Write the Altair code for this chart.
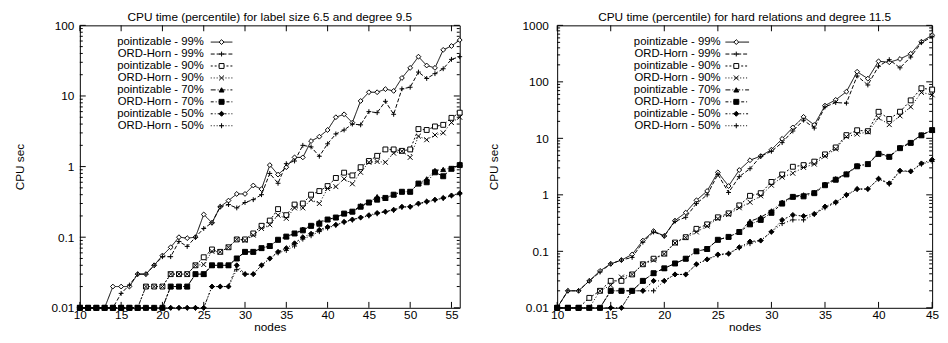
import altair as alt
import pandas as pd

FONT = "Liberation Sans"

SERIES = ["pointizable - 99%", "ORD-Horn - 99%", "pointizable - 90%", "ORD-Horn - 90%",
          "pointizable - 70%", "ORD-Horn - 70%", "pointizable - 50%", "ORD-Horn - 50%"]

# ---------------- left panel: label size 6.5, degree 9.5 ----------------
LEFT_NODES = list(range(10, 57))
LEFT_P99 = [0.01, 0.01, 0.01, 0.01, 0.02, 0.02, 0.02, 0.03, 0.03, 0.04,
            0.055, 0.072, 0.1, 0.097, 0.1, 0.21, 0.16, 0.27, 0.33, 0.41,
            0.41, 0.54, 0.48, 1.05, 0.77, 0.98, 1.35, 1.35, 2.3, 2.65,
            3.3, 5.0, 5.5, 4.2, 8.5, 11.3, 11.3, 12.5, 11.8, 18,
            25, 36, 27, 25, 45, 51, 62]
LEFT_O99 = [0.01, 0.01, 0.01, 0.01, 0.01, 0.016, 0.021, 0.03, 0.03, 0.04,
            0.053, 0.053, 0.087, 0.074, 0.1, 0.133, 0.16, 0.27, 0.29, 0.26,
            0.31, 0.34, 0.4, 0.8, 0.58, 1.1, 1.2, 2.0, 1.9, 1.4,
            2.1, 2.9, 3.3, 4.0, 3.9, 6.0, 5.8, 8.4, 5.5, 12.6,
            13.3, 21.8, 17.7, 20.7, 24.3, 33, 36]
LEFT_P90 = [0.01, 0.01, 0.01, 0.01, 0.01, 0.01, 0.01, 0.01, 0.02, 0.02,
            0.02, 0.03, 0.03, 0.03, 0.04, 0.052, 0.067, 0.062, 0.072, 0.093,
            0.093, 0.113, 0.145, 0.172, 0.25, 0.205, 0.29, 0.30, 0.40, 0.45,
            0.53, 0.69, 0.82, 0.75, 0.98, 1.2, 1.42, 1.75, 1.75, 1.67,
            1.75, 3.4, 3.3, 3.7, 3.9, 4.9, 5.8]
LEFT_O90 = [0.01, 0.01, 0.01, 0.01, 0.01, 0.01, 0.01, 0.01, 0.02, 0.02,
            0.02, 0.03, 0.03, 0.03, 0.04, 0.041, 0.063, 0.062, 0.072, 0.093,
            0.09, 0.107, 0.133, 0.15, 0.205, 0.185, 0.26, 0.26, 0.34, 0.30,
            0.49, 0.52, 0.67, 0.57, 0.83, 1.15, 1.18, 1.15, 1.55, 1.65,
            1.35, 2.7, 2.4, 2.8, 3.0, 4.2, 5.0]
LEFT_P70 = [0.01, 0.01, 0.01, 0.01, 0.01, 0.01, 0.01, 0.01, 0.01, 0.01,
            0.01, 0.02, 0.02, 0.02, 0.03, 0.03, 0.04, 0.04, 0.04, 0.05,
            0.062, 0.062, 0.07, 0.075, 0.092, 0.102, 0.113, 0.13, 0.145, 0.165,
            0.178, 0.19, 0.216, 0.23, 0.28, 0.31, 0.375, 0.355, 0.40, 0.44,
            0.44, 0.575, 0.67, 0.88, 0.91, 0.95, 1.09]
LEFT_O70 = [0.01, 0.01, 0.01, 0.01, 0.01, 0.01, 0.01, 0.01, 0.01, 0.01,
            0.01, 0.02, 0.02, 0.02, 0.03, 0.03, 0.04, 0.04, 0.04, 0.05,
            0.062, 0.062, 0.07, 0.075, 0.092, 0.102, 0.113, 0.125, 0.145, 0.155,
            0.178, 0.19, 0.216, 0.23, 0.27, 0.31, 0.34, 0.36, 0.40, 0.44,
            0.44, 0.575, 0.60, 0.83, 0.73, 0.93, 1.05]
LEFT_P50 = [0.01, 0.01, 0.01, 0.01, 0.01, 0.01, 0.01, 0.01, 0.01, 0.01,
            0.01, 0.01, 0.01, 0.01, 0.01, 0.01, 0.02, 0.02, 0.02, 0.04,
            0.03, 0.03, 0.04, 0.05, 0.062, 0.07, 0.082, 0.1, 0.112, 0.127,
            0.14, 0.15, 0.165, 0.178, 0.19, 0.205, 0.22, 0.23, 0.245, 0.27,
            0.27, 0.30, 0.32, 0.34, 0.36, 0.39, 0.42]
LEFT_O50 = [0.01, 0.01, 0.01, 0.01, 0.01, 0.01, 0.01, 0.01, 0.01, 0.01,
            0.01, 0.01, 0.01, 0.01, 0.01, 0.01, 0.02, 0.02, 0.02, 0.035,
            0.03, 0.03, 0.04, 0.05, 0.06, 0.065, 0.075, 0.094, 0.105, 0.12,
            0.135, 0.148, 0.163, 0.175, 0.19, 0.2, 0.215, 0.23, 0.24, 0.265,
            0.27, 0.295, 0.315, 0.335, 0.355, 0.385, 0.41]

# ---------------- right panel: hard relations, degree 11.5 ----------------
RIGHT_NODES = list(range(10, 46))
RIGHT_P99 = [0.01, 0.02, 0.02, 0.03, 0.045, 0.06, 0.07, 0.088, 0.155, 0.228,
             0.187, 0.35, 0.485, 0.8, 1.17, 2.5, 1.43, 2.75, 4.1, 4.85,
             6.3, 9.8, 15.6, 24, 17.3, 38, 48, 67, 151, 114,
             231, 222, 254, 314, 514, 670]
RIGHT_O99 = [0.01, 0.02, 0.02, 0.03, 0.043, 0.06, 0.07, 0.078, 0.145, 0.22,
             0.187, 0.34, 0.40, 0.7, 1.0, 2.3, 1.1, 2.1, 2.9, 4.8,
             5.9, 8.4, 13.5, 21, 15.2, 36, 43, 42, 127, 88,
             189, 247, 177, 275, 494, 627]
RIGHT_P90 = [0.01, 0.01, 0.01, 0.015, 0.02, 0.03, 0.03, 0.039, 0.059, 0.074,
             0.091, 0.143, 0.178, 0.25, 0.30, 0.40, 0.47, 0.65, 0.96, 1.07,
             1.69, 2.29, 3.14, 3.36, 3.87, 5.2, 6.9, 11.4, 13.9, 13.4,
             29.5, 22, 29.6, 47, 77, 73]
RIGHT_O90 = [0.01, 0.01, 0.01, 0.01, 0.02, 0.025, 0.035, 0.039, 0.059, 0.07,
             0.09, 0.14, 0.175, 0.22, 0.28, 0.38, 0.45, 0.59, 0.74, 0.96,
             1.48, 2.06, 2.41, 3.06, 3.5, 4.85, 6.5, 10.7, 11.9, 13,
             23, 17.5, 25, 36, 65, 59]
RIGHT_P70 = [0.01, 0.01, 0.01, 0.01, 0.01, 0.02, 0.02, 0.02, 0.03, 0.041,
             0.05, 0.061, 0.074, 0.10, 0.11, 0.16, 0.18, 0.22, 0.34, 0.40,
             0.52, 0.74, 0.94, 1.0, 1.1, 1.54, 1.93, 2.35, 3.27, 3.5,
             5.5, 4.8, 6.9, 8.5, 11.5, 14]
RIGHT_O70 = [0.01, 0.01, 0.01, 0.01, 0.01, 0.02, 0.02, 0.02, 0.03, 0.041,
             0.05, 0.061, 0.074, 0.10, 0.11, 0.16, 0.18, 0.22, 0.30, 0.36,
             0.48, 0.70, 0.92, 0.94, 1.07, 1.48, 1.85, 2.3, 3.2, 3.5,
             5.3, 4.7, 6.7, 8.3, 11.3, 14]
RIGHT_P50 = [0.01, 0.01, 0.01, 0.01, 0.01, 0.01, 0.01, 0.02, 0.02, 0.03,
             0.03, 0.039, 0.039, 0.059, 0.072, 0.088, 0.091, 0.118, 0.149, 0.155,
             0.222, 0.36, 0.44, 0.42, 0.46, 0.62, 0.74, 1.0, 1.27, 1.27,
             1.93, 1.6, 2.68, 2.6, 3.6, 4.2]
RIGHT_O50 = [0.01, 0.01, 0.01, 0.01, 0.01, 0.01, 0.01, 0.02, 0.02, 0.02,
             0.03, 0.039, 0.039, 0.059, 0.072, 0.085, 0.091, 0.115, 0.137, 0.155,
             0.22, 0.31, 0.36, 0.36, 0.45, 0.59, 0.72, 0.98, 1.25, 1.27,
             1.9, 1.55, 2.6, 2.6, 3.5, 3.9]

LEFT_TITLE = "CPU time (percentile) for label size 6.5 and degree 9.5"
RIGHT_TITLE = "CPU time (percentile) for hard relations and degree 11.5"
LEFT_X_TICKS = [10, 15, 20, 25, 30, 35, 40, 45, 50, 55]
RIGHT_X_TICKS = [10, 15, 20, 25, 30, 35, 40, 45]
LEFT_Y_TICKS = [0.01, 0.1, 1, 10, 100]
RIGHT_Y_TICKS = [0.01, 0.1, 1, 10, 100, 1000]

# styles
DASHES = [[1, 0], [4, 2], [2, 2], [1, 2], [5, 2, 1, 2], [3, 2, 1, 2], [2, 2, 1, 2], [1, 2]]
PLUS = "M-1,0L1,0M0,-1L0,1"
CROSS = "M-1,-1L1,1M-1,1L1,-1"
SHAPES = ["diamond", PLUS, "square", CROSS, "triangle-up", "square", "diamond", PLUS]
FILLS = ["white", "transparent", "white", "transparent", "black", "black", "black", "transparent"]
SIZES = [24, 26, 20, 20, 20, 13, 18, 26]


def minor_ticks(majors):
    return [m * k for m in majors[:-1] for k in range(2, 10)]


def panel(nodes, arrays, title, x_dom, x_ticks, y_dom, y_ticks, W, H, leg, lab_pad, ttl_pad):
    rows = []
    for name, vals in zip(SERIES, arrays):
        for n, v in zip(nodes, vals):
            rows.append({"nodes": n, "cpu": v, "series": name})
    df = pd.DataFrame(rows)

    x_scale = alt.Scale(domain=x_dom, nice=False, zero=False)
    x_axis = alt.Axis(values=x_ticks, title="nodes", labelPadding=2, titlePadding=1,
                      labelFlush=False, tickSize=0)
    y_scale = alt.Scale(type="log", domain=y_dom, nice=False)

    X = alt.X("nodes:Q", scale=x_scale, axis=x_axis)
    Y = alt.Y("cpu:Q", scale=y_scale,
              axis=alt.Axis(values=y_ticks, format="~g", title="CPU sec",
                            labelPadding=lab_pad, titlePadding=ttl_pad, tickSize=0))
    Yn = alt.Y("cpu:Q", scale=y_scale, axis=None)
    dash = alt.StrokeDash("series:N", scale=alt.Scale(domain=SERIES, range=DASHES), legend=None)
    shape = alt.Shape("series:N", scale=alt.Scale(domain=SERIES, range=SHAPES), legend=None)
    fill = alt.Fill("series:N", scale=alt.Scale(domain=SERIES, range=FILLS), legend=None)
    size = alt.Size("series:N", scale=alt.Scale(domain=SERIES, range=SIZES), legend=None)

    lines = alt.Chart(df).mark_line(color="black", strokeWidth=1).encode(
        x=X, y=Y, strokeDash=dash, detail="series:N", order="nodes:Q")
    pts = alt.Chart(df).mark_point(stroke="black", strokeWidth=1, opacity=1).encode(
        x=X, y=Yn, shape=shape, fill=fill, size=size)

    # inward ticks (gnuplot style, mirrored)
    ymaj = pd.DataFrame({"v": y_ticks})
    ymin = pd.DataFrame({"v": minor_ticks(y_ticks)})
    xt = pd.DataFrame({"nodes": x_ticks})
    TY = alt.Y("v:Q", scale=y_scale, axis=None)
    ticks = [
        alt.Chart(ymaj).mark_rule(color="black").encode(y=TY, x=alt.value(0), x2=alt.value(6)),
        alt.Chart(ymaj).mark_rule(color="black").encode(y=TY, x=alt.value(W - 6), x2=alt.value(W)),
        alt.Chart(ymin).mark_rule(color="black").encode(y=TY, x=alt.value(0), x2=alt.value(3)),
        alt.Chart(ymin).mark_rule(color="black").encode(y=TY, x=alt.value(W - 3), x2=alt.value(W)),
        alt.Chart(xt).mark_rule(color="black").encode(x=X, y=alt.value(H - 6), y2=alt.value(H)),
        alt.Chart(xt).mark_rule(color="black").encode(x=X, y=alt.value(0), y2=alt.value(6)),
    ]

    # key, gnuplot style: label then sample
    leg_df = pd.DataFrame({"series": SERIES})
    LY = alt.Y("series:N", scale=alt.Scale(type="point", domain=SERIES, range=[17, 102], padding=0),
               axis=None)
    ltext = alt.Chart(leg_df).mark_text(align="right", baseline="middle", font=FONT, fontSize=11.5,
                                        color="black").encode(
        x=alt.value(leg[0]), y=LY, text="series:N")
    lrule = alt.Chart(leg_df).mark_rule(color="black", strokeWidth=1).encode(
        x=alt.value(leg[1]), x2=alt.value(leg[2]), y=LY, strokeDash=dash)
    lpt = alt.Chart(leg_df).mark_point(stroke="black", strokeWidth=1, opacity=1).encode(
        x=alt.value(leg[3]), y=LY, shape=shape, fill=fill, size=size)

    return alt.layer(*ticks, lines, pts, ltext, lrule, lpt).resolve_scale(
        y="independent").properties(
        width=W, height=H,
        title=alt.TitleParams(title, font=FONT, fontSize=12, fontWeight="normal",
                              anchor="middle", offset=-5, color="black"))


H = 287
left = panel(LEFT_NODES,
             [LEFT_P99, LEFT_O99, LEFT_P90, LEFT_O90, LEFT_P70, LEFT_O70, LEFT_P50, LEFT_O50],
             LEFT_TITLE, [10, 56], LEFT_X_TICKS, [0.01, 100], LEFT_Y_TICKS,
             386, H, (126, 133, 155, 144), 6, 25)
right = panel(RIGHT_NODES,
              [RIGHT_P99, RIGHT_O99, RIGHT_P90, RIGHT_O90, RIGHT_P70, RIGHT_O70, RIGHT_P50, RIGHT_O50],
              RIGHT_TITLE, [10, 45], RIGHT_X_TICKS, [0.01, 1000], RIGHT_Y_TICKS,
              381, H, (166, 171, 195, 182), 9, 22)

chart = alt.hconcat(left, right, spacing=21).properties(
    padding={"left": 5, "top": 0, "right": 0, "bottom": 0}
).configure_view(
    stroke="black", strokeWidth=1
).configure_axis(
    domain=False, ticks=False, grid=False,
    labelFont=FONT, labelFontSize=12, labelColor="black",
    titleFont=FONT, titleFontSize=12, titleFontWeight="normal", titleColor="black"
)

chart.save("out.html", embed_options={"renderer": "svg", "actions": False})
